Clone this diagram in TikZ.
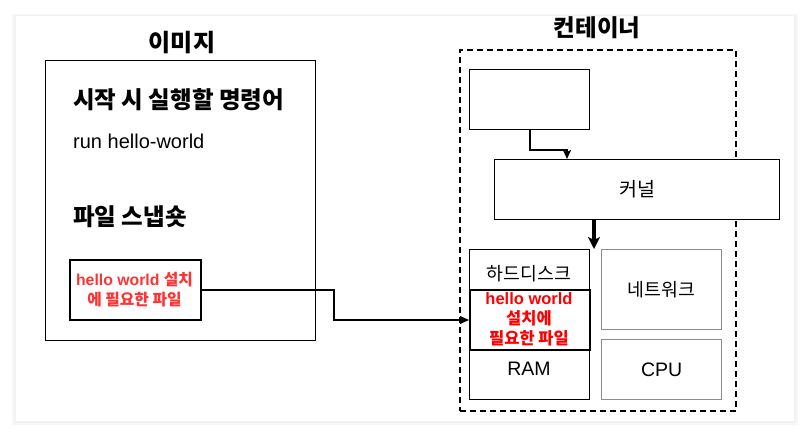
\documentclass[tikz,border=0pt]{standalone}
\usepackage{fontspec}
\setmainfont{Liberation Sans}
\newfontfamily\kr{Noto Sans CJK KR}
\usetikzlibrary{arrows.meta}
\begin{document}
\begin{tikzpicture}[x=1pt,y=-1pt,
  box/.style={draw=black,line width=1pt,fill=white,rectangle,inner sep=0pt,anchor=north west},
  thickbox/.style={box,line width=2pt},
  graybox/.style={box,draw=black!45,line width=1.3pt},
  lbl/.style={inner sep=0pt,align=center},
]
\useasboundingbox (0,0) rectangle (810,437);
% card with soft shadow
\fill[black!3] (12,14) rectangle (798,425);
\fill[black!5] (14,15) rectangle (796,423);
\fill[white] (16,16) rectangle (794,421);

% ---- image side
\node[lbl,font=\kr\bfseries\fontsize{24}{28}\selectfont] (imgt) at (182,43) {이미지};
\node[box,minimum width=270pt,minimum height=280pt] (img) at (45,60) {};
\node[lbl,anchor=west,font=\kr\bfseries\fontsize{23.5}{28}\selectfont] (cmdt) at (73,100) {시작 시 실행할 명령어};
\node[lbl,anchor=west,font=\fontsize{20}{24}\selectfont] (cmd) at (73,141) {run hello-world};
\node[lbl,anchor=west,font=\kr\bfseries\fontsize{23.5}{28}\selectfont] (snap) at (73,217) {파일 스냅숏};
\node[thickbox,minimum width=131pt,minimum height=60pt] (red1) at (69,259) {};
\node[lbl,text=red!80!white,font=\bfseries\fontsize{15.8}{20}\selectfont] (red1t) at (134.5,290) {hello world {\kr 설치}\\{\kr 에 필요한 파일}};

% ---- container side
\node[lbl,font=\kr\bfseries\fontsize{23.5}{28}\selectfont] (cont) at (597,28) {컨테이너};
\node[box,fill=none,dash pattern=on 6pt off 4pt,line width=1.6pt,minimum width=276pt,minimum height=361pt] (dash) at (459,49) {};
\node[box,minimum width=120pt,minimum height=60pt] (top) at (469,69) {};
\node[box,minimum width=285pt,minimum height=60pt] (kern) at (494,159) {};
\node[lbl,font=\kr\fontsize{19.5}{24}\selectfont] (kernt) at (kern.center) {커널};
\node[box,minimum width=120pt,minimum height=150pt] (hd) at (469,249) {};
\node[lbl,font=\kr\fontsize{18.3}{22}\selectfont] (hdt) at (529,274) {하드디스크};
\node[thickbox,minimum width=120pt,minimum height=60pt] (hw) at (469,289) {};
\node[lbl,text=red,font=\bfseries\fontsize{16.5}{20}\selectfont] (hwt) at (529,319) {hello world\\{\kr 설치에}\\{\kr 필요한 파일}};
\node[lbl,font=\fontsize{19.5}{23}\selectfont] (ram) at (529,369) {RAM};
\node[graybox,minimum width=120pt,minimum height=80pt] (net) at (601,249) {};
\node[lbl,font=\kr\fontsize{18.3}{22}\selectfont] (nett) at (net.center) {네트워크};
\node[graybox,minimum width=120pt,minimum height=60pt] (cpu) at (601,339) {};
\node[lbl,font=\fontsize{19.5}{23}\selectfont] (cput) at (cpu.center) {CPU};

% ---- connectors
\coordinate (mx) at (334,0);
\draw[line width=2pt,-{Stealth[length=9pt,width=8pt,inset=2pt]}] (red1.east) -| (mx |- hw.west) -- (hw.west);
\coordinate (kx) at (567,0);
\coordinate (ky) at (0,150);
\draw[line width=2pt,-{Stealth[length=9pt,width=8pt,inset=2pt]}] (top.south) |- (kx |- ky) -- (kx |- kern.north);
\coordinate (tx) at (594,0);
\draw[line width=3.5pt,-{Stealth[length=12pt,width=12pt,inset=3pt]}] (tx |- kern.south) -- (tx |- hd.north);
\end{tikzpicture}
\end{document}
